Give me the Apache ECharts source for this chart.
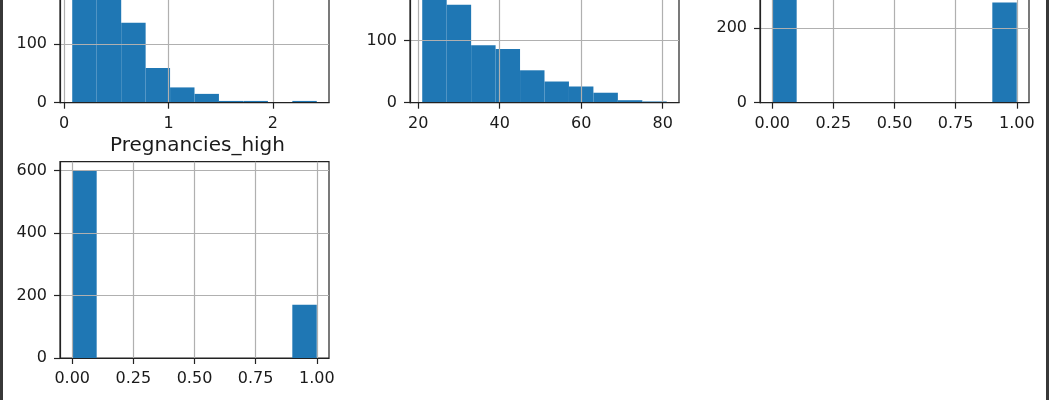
<!DOCTYPE html>
<html>
<head>
<meta charset="utf-8">
<script src="https://cdn.jsdelivr.net/npm/echarts@6/dist/echarts.min.js"></script>
<style>
  html, body { margin: 0; padding: 0; background: #fff; }
  #wrap { position: relative; width: 1049px; height: 400px; overflow: hidden; }
  #chart { position: absolute; left: 0; top: 0; width: 1049px; height: 400px; }
  .edge { position: absolute; top: 0; width: 3px; height: 400px; background: #383838; }
</style>
</head>
<body>
<div id="wrap">
  <div id="chart"></div>
  <div class="edge" style="left:0"></div>
  <div class="edge" style="left:1046px"></div>
</div>
<script>
// ---- data ----
const dpfEdges  = [0.078, 0.312, 0.547, 0.781, 1.015, 1.249, 1.483, 1.718, 1.952, 2.186, 2.420];
const dpfCounts = [318, 205, 136, 59, 26, 15, 3, 3, 0, 3];
const dpfXTicks = [0, 1, 2];
const dpfYTicks = [0, 100, 200, 300];

const ageEdges  = [21, 27, 33, 39, 45, 51, 57, 63, 69, 75, 81];
const ageCounts = [300, 157, 92, 86, 52, 34, 26, 16, 4, 2];
const ageXTicks = [20, 40, 60, 80];
const ageYTicks = [0, 100, 200, 300];

const outEdges  = [0, 0.1, 0.2, 0.3, 0.4, 0.5, 0.6, 0.7, 0.8, 0.9, 1.0];
const outCounts = [500, 0, 0, 0, 0, 0, 0, 0, 0, 268];
const outXTicks = [0, 0.25, 0.5, 0.75, 1.0];
const outYTicks = [0, 200, 400];

const pregEdges  = [0, 0.1, 0.2, 0.3, 0.4, 0.5, 0.6, 0.7, 0.8, 0.9, 1.0];
const pregCounts = [598, 0, 0, 0, 0, 0, 0, 0, 0, 170];
const pregXTicks = [0, 0.25, 0.5, 0.75, 1.0];
const pregYTicks = [0, 200, 400, 600];

const titles = ['DiabetesPedigreeFunction', 'Age', 'Outcome', 'Pregnancies_high'];

// ---- chart ----
const FONT = '"DejaVu Sans", sans-serif';
const panels = [
  { edges: dpfEdges,  counts: dpfCounts,  xt: dpfXTicks,  yt: dpfYTicks,  fmt: v => String(v),       grid: { left: 60,  top: -93.6, width: 269, height: 196.3 } },
  { edges: ageEdges,  counts: ageCounts,  xt: ageXTicks,  yt: ageYTicks,  fmt: v => String(v),       grid: { left: 410, top: -93.6, width: 269, height: 196.3 } },
  { edges: outEdges,  counts: outCounts,  xt: outXTicks,  yt: outYTicks,  fmt: v => (+v).toFixed(2), grid: { left: 760, top: -93.6, width: 269, height: 196.3 } },
  { edges: pregEdges, counts: pregCounts, xt: pregXTicks, yt: pregYTicks, fmt: v => (+v).toFixed(2), grid: { left: 60,  top: 161.7, width: 269, height: 196.3 } }
];

const grids = [], xAxes = [], yAxes = [], series = [];
const lineCol = '#222';
panels.forEach((p, i) => {
  const lo = p.edges[0], hi = p.edges[p.edges.length - 1];
  const pad = (hi - lo) * 0.05;
  grids.push(Object.assign({ show: true, borderColor: lineCol, borderWidth: 1.2, backgroundColor: 'transparent',
    containLabel: false, outerBoundsMode: 'none' }, p.grid));
  const common = {
    gridIndex: i, type: 'value', z: 5,
    axisLine: { show: true, onZero: false, lineStyle: { color: lineCol, width: 1.2 } },
    axisTick: { show: true, inside: false, length: 6, lineStyle: { color: lineCol, width: 1.2 } },
    splitLine: { show: true, lineStyle: { color: '#b0b0b0', width: 1.2 } }
  };
  xAxes.push(Object.assign({}, common, {
    min: lo - pad, max: hi + pad,
    axisTick: Object.assign({}, common.axisTick, { customValues: p.xt }),
    axisLabel: { customValues: p.xt, formatter: p.fmt, margin: 13, fontSize: 16, fontFamily: FONT, color: '#1a1a1a' }
  }));
  yAxes.push(Object.assign({}, common, {
    min: 0, max: 1.05 * Math.max.apply(null, p.counts),
    axisTick: Object.assign({}, common.axisTick, { customValues: p.yt }),
    axisLabel: { customValues: p.yt, formatter: v => String(v), margin: 13, fontSize: 16, fontFamily: FONT, color: '#1a1a1a' }
  }));
  const data = p.counts.map((c, k) => [p.edges[k], p.edges[k + 1], c]);
  series.push({
    type: 'custom', xAxisIndex: i, yAxisIndex: i, z: 2, silent: true,
    encode: { x: [0, 1], y: 2 },
    data: data,
    renderItem: function (params, api) {
      const a = api.coord([api.value(0), api.value(2)]);
      const b = api.coord([api.value(1), 0]);
      return { type: 'rect', shape: { x: a[0], y: a[1], width: b[0] - a[0], height: b[1] - a[1] }, style: { fill: '#1f77b4' } };
    }
  });
});

const chart = echarts.init(document.getElementById('chart'), null, { renderer: 'canvas' });
chart.setOption({
  animation: false,
  backgroundColor: '#fff',
  title: [{
    text: titles[3], left: 105, top: 131,
    textStyle: { fontSize: 20, fontWeight: 'normal', fontFamily: FONT, color: '#1a1a1a' }
  }],
  grid: grids, xAxis: xAxes, yAxis: yAxes, series: series
});
</script>
</body>
</html>
